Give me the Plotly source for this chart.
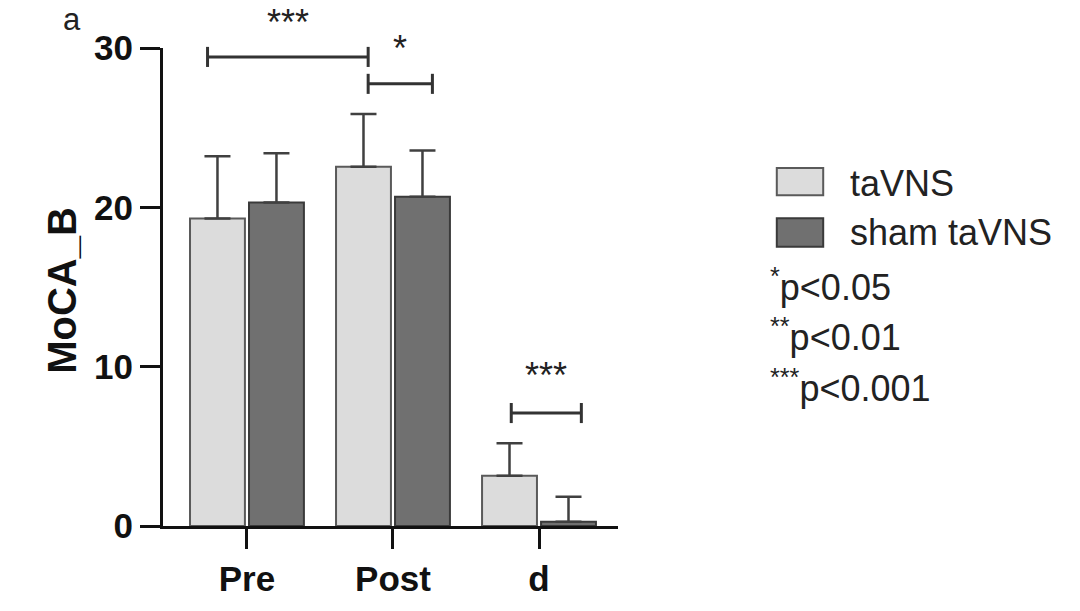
import plotly.graph_objects as go

categories = ["Pre", "Post", "d"]
tavns_mean = [19.3, 22.55, 3.16]
tavns_sd = [3.9, 3.3, 2.03]
sham_mean = [20.3, 20.67, 0.27]
sham_sd = [3.1, 2.9, 1.57]
y_ticks = [0, 10, 20, 30]

# significance brackets: (x_start, x_end, y, label, label_top_y)
brackets = [
    (-0.27, 0.83, 29.44, "***", 32.95),
    (0.83, 1.27, 27.75, "*", 31.3),
    (1.81, 2.29, 7.09, "***", 10.8),
]

FONT = "Arial, Liberation Sans, Helvetica, sans-serif"
xpos = list(range(len(categories)))
X0, X1 = -0.575, 2.541
Y0, Y1 = 0, 30

fig = go.Figure()
fig.add_trace(go.Bar(
    x=xpos, y=tavns_mean, name="taVNS", width=0.376, offset=-0.39,
    marker=dict(color="#dcdcdc", line=dict(color="#5a5a5a", width=2)),
    error_y=dict(type="data", array=tavns_sd, arrayminus=[0]*3, symmetric=False,
                 color="#404040", thickness=2.5, width=13),
))
fig.add_trace(go.Bar(
    x=xpos, y=sham_mean, name="sham taVNS", width=0.376, offset=0.014,
    marker=dict(color="#707070", line=dict(color="#3a3a3a", width=2)),
    error_y=dict(type="data", array=sham_sd, arrayminus=[0]*3, symmetric=False,
                 color="#404040", thickness=2.5, width=13),
))

def px(x):
    return (x - X0) / (X1 - X0)

def py(y):
    return (y - Y0) / (Y1 - Y0)

shapes = []
annotations = []
tick_half = 0.63
for xa, xb, yb, lab, ly in brackets:
    shapes.append(dict(type="line", xref="paper", yref="paper", x0=px(xa), x1=px(xb),
                       y0=py(yb), y1=py(yb), line=dict(color="#333", width=3)))
    for xx in (xa, xb):
        shapes.append(dict(type="line", xref="paper", yref="paper", x0=px(xx), x1=px(xx),
                           y0=py(yb - tick_half), y1=py(yb + tick_half),
                           line=dict(color="#333", width=3)))
    annotations.append(dict(xref="paper", yref="paper", x=px((xa + xb) / 2), y=py(ly),
                            text=lab, showarrow=False, xanchor="center", yanchor="top",
                            borderpad=0,
                            font=dict(family=FONT, size=36, color="#222")))

# legend (drawn manually to match large swatches)
leg = [("taVNS", "#dcdcdc", "#5a5a5a", 0.692, 0.749, 0.716),
       ("sham taVNS", "#707070", "#3a3a3a", 0.584, 0.644, 0.614)]
for name, fill, edge, ya, yb, yt in leg:
    shapes.append(dict(type="rect", xref="paper", yref="paper", x0=1.349, x1=1.451,
                       y0=ya, y1=yb, fillcolor=fill, line=dict(color=edge, width=2)))
    annotations.append(dict(xref="paper", yref="paper", x=1.505, y=yt, text=name,
                            showarrow=False, xanchor="left", yanchor="middle",
                            font=dict(family=FONT, size=36, color="#222")))

plabels = [("<sup>*</sup>p&lt;0.05", 0.505), ("<sup>**</sup>p&lt;0.01", 0.4),
           ("<sup>***</sup>p&lt;0.001", 0.293)]
for t, yy in plabels:
    annotations.append(dict(xref="paper", yref="paper", x=1.33, y=yy, text=t,
                            showarrow=False, xanchor="left", yanchor="middle",
                            font=dict(family=FONT, size=36, color="#222")))

annotations.append(dict(xref="paper", yref="paper", x=-0.2, y=1.059, text="a",
                        showarrow=False, xanchor="center", yanchor="middle",
                        font=dict(family=FONT, size=31, color="#222")))
annotations.append(dict(xref="paper", yref="paper", x=-0.222, y=0.494, text="<b>MoCA_B</b>",
                        showarrow=False, xanchor="center", yanchor="middle", textangle=-90,
                        font=dict(family=FONT, size=40, color="#111")))

fig.update_layout(
    width=1080, height=611,
    margin=dict(l=163, r=462, t=48, b=85),
    paper_bgcolor="white", plot_bgcolor="white",
    showlegend=False,
    shapes=shapes, annotations=annotations,
    xaxis=dict(range=[X0, X1], tickvals=xpos, ticktext=[f"<b>{c}</b>" for c in categories],
               showline=True, linecolor="#111", linewidth=3, ticks="outside", ticklen=20,
               tickwidth=3, tickcolor="#111", showgrid=False, zeroline=False,
               tickfont=dict(family=FONT, size=35, color="#111")),
    yaxis=dict(range=[Y0, Y1], tickvals=y_ticks, ticktext=[f"<b>{v}</b>" for v in y_ticks],
               showline=True, linecolor="#111", linewidth=3, ticks="outside", ticklen=20,
               tickwidth=3, tickcolor="#111", showgrid=False, zeroline=False,
               tickfont=dict(family=FONT, size=35, color="#111")),
)

fig.write_html("out.html")
